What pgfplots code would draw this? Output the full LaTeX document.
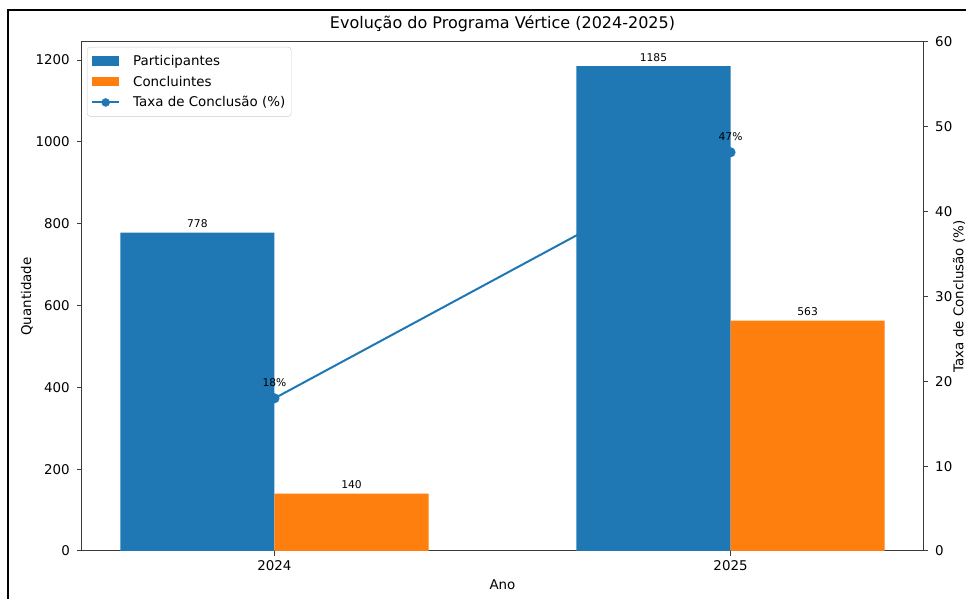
\documentclass[border=0pt]{standalone}
\usepackage{fontspec}
\setmainfont{DejaVu Sans}
\usepackage{pgfplots}
\pgfplotsset{compat=1.18}
\definecolor{tabblue}{HTML}{1F77B4}
\definecolor{taborange}{HTML}{FF7F0E}
\definecolor{spine}{HTML}{3A3A3A}
\pgfplotsset{
  base/.style={
    scale only axis, width=841bp, height=509bp,
    xmin=-0.422, xmax=1.422,
    font=\fontsize{13.4bp}{16bp}\selectfont,
    /pgf/number format/assume math mode=true,
    /pgf/number format/1000 sep={},
    tick align=outside, major tick length=4.7bp,
    axis line style={spine, line width=1bp},
    every tick/.style={spine, line width=1bp},
    clip=false,
  }
}
\begin{document}
\begin{tikzpicture}[x=1bp,y=1bp]
\useasboundingbox (-82,-48) rectangle (884,551);
\draw[line width=2.5bp] (-74,-48) -- (-74,541) -- (884,541);
% line (right axis), drawn first so bars cover it
\begin{axis}[base,
  axis y line*=right, axis x line=none,
  ymin=0, ymax=60, ytick={0,10,...,60},
  yticklabel style={xshift=4bp},
  ylabel={Taxa de Conclusão (\%)},
  ylabel style={at={(axis description cs:1,0.5)}, anchor=center, yshift=-36bp},
]
\addplot[tabblue, line width=2bp, mark=*, mark size=4bp] coordinates {(0,18) (1,47)};
\end{axis}
% bars (left axis)
\begin{axis}[base,
  ybar,
  ymin=0, ymax=1244.25, ytick={0,200,...,1200},
  xtick={0,1}, xticklabels={2024,2025},
  xtick pos=left, ytick pos=left,
  yticklabel style={xshift=-4bp},
  xticklabel style={yshift=-1bp},
  xlabel={Ano}, ylabel={Quantidade},
  xlabel style={at={(axis description cs:0.5,0)}, anchor=center, yshift=-34bp},
  ylabel style={at={(axis description cs:0,0.5)}, anchor=center, yshift=55bp},
  title={Evolução do Programa Vértice (2024-2025)},
  title style={at={(axis description cs:0.5,1)}, anchor=center, yshift=12bp, font=\fontsize{16bp}{19bp}\selectfont},
  nodes near coords,
  every node near coord/.append style={font=\fontsize{10.7bp}{12bp}\selectfont, text=black, anchor=south, yshift=1.5bp},
  legend cell align=left,
  legend style={at={(axis description cs:0,1)}, anchor=north west, xshift=5bp, yshift=-5bp,
    draw=black!20, rounded corners=3bp, fill=white, fill opacity=0.8, text opacity=1,
    font=\fontsize{13.4bp}{16bp}\selectfont, row sep=5bp, inner xsep=4bp, inner ysep=6bp},
]
\addplot[fill=tabblue, draw=none, bar width=0.338, bar shift=-0.169,
  legend image code/.code={\path[draw=none,fill=none] (0bp,0bp) -- (39bp,0bp); \fill[sharp corners, fill=tabblue, fill opacity=1] (0bp,-4.7bp) rectangle (27bp,4.7bp);}]
  coordinates {(0,778) (1,1185)};
\addlegendentry{Participantes}
\addplot[fill=taborange, draw=none, bar width=0.338, bar shift=0.169,
  legend image code/.code={\path[draw=none,fill=none] (0bp,0bp) -- (39bp,0bp); \fill[sharp corners, fill=taborange, fill opacity=1] (0bp,-4.7bp) rectangle (27bp,4.7bp);}]
  coordinates {(0,140) (1,563)};
\addlegendentry{Concluintes}
\addlegendimage{legend image code/.code={\path[draw=none,fill=none] (0bp,0bp) -- (39bp,0bp); \draw[sharp corners, draw=tabblue, line width=2bp, draw opacity=1] (0bp,0bp) -- (27bp,0bp); \fill[tabblue, fill opacity=1] (13.5bp,0bp) circle (4bp);}}
\addlegendentry{Taxa de Conclusão (\%)}
\end{axis}
% percentage labels on top
\begin{axis}[base, hide axis, ymin=0, ymax=60]
\node[anchor=base, yshift=12bp, font=\fontsize{10.7bp}{12bp}\selectfont] at (axis cs:0,18) {18\%};
\node[anchor=base, yshift=12bp, font=\fontsize{10.7bp}{12bp}\selectfont] at (axis cs:1,47) {47\%};
\end{axis}
\end{tikzpicture}
\end{document}
